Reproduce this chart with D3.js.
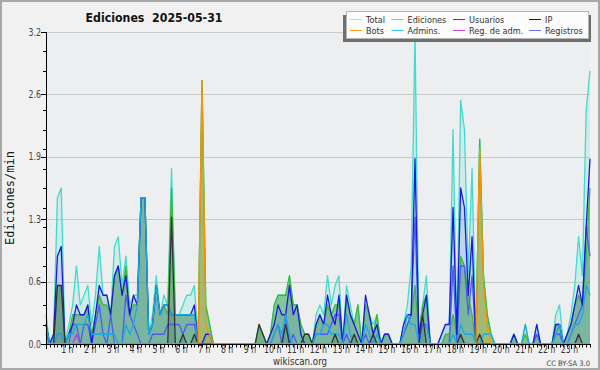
<!DOCTYPE html>
<html><head><meta charset="utf-8">
<script src="https://cdn.jsdelivr.net/npm/d3@7"></script>
<style>
html,body{margin:0;padding:0;background:#f1f1f1;}
svg{display:block;}
</style>
</head><body>
<svg id="c" width="600" height="370"></svg>
<script>
// ---- data (edits per minute, 10-minute buckets, 144 points) ----
const hourLabels = ["1 h","2 h","3 h","4 h","5 h","6 h","7 h","8 h","9 h","10 h","11 h","12 h","13 h","14 h","15 h","16 h","17 h","18 h","19 h","20 h","21 h","22 h","23 h"];
const yTickValues = [0, 0.64, 1.28, 1.92, 2.56, 3.2];

const total = [
 0.3,0.0,0.1,1.5,1.6,0.0,  0.2,0.4,0.8,0.4,0.5,0.6,  0.2,0.5,1.0,0.5,0.5,0.3,  1.0,1.1,0.6,0.9,0.4,0.5,
 0.5,1.5,1.5,0.1,0.3,0.7,  0.3,0.5,0.4,1.8,0.3,0.3,  0.4,0.5,0.5,0.6,0.0,2.7,  0.4,0.2,0.0,0.0,0.0,0.0,
 0.0,0.0,0.0,0.0,0.0,0.0,  0.0,0.0,0.2,0.1,0.0,0.1,  0.4,0.5,0.5,0.5,0.7,0.4,  0.4,0.2,0.1,0.1,0.0,0.3,
 0.4,0.3,0.7,0.4,0.6,0.7,  0.0,0.6,0.4,0.2,0.4,0.0,  0.4,0.3,0.2,0.3,0.0,0.1,  0.1,0.0,0.0,0.0,0.2,0.4,
 0.8,3.2,0.1,0.4,0.7,0.0,  0.0,0.0,0.1,0.2,0.2,2.2,  0.1,2.5,2.2,0.7,1.8,0.0,  2.1,0.7,0.3,0.1,0.0,0.0,
 0.0,0.0,0.0,0.1,0.0,0.0,  0.2,0.0,0.0,0.2,0.0,0.0,  0.0,0.0,0.3,0.4,0.0,0.1,  0.3,0.6,1.1,0.7,2.4,2.8];

const ediciones = [
 0.2,0.0,0.1,0.6,0.6,0.0,  0.1,0.3,0.3,0.3,0.3,0.4,  0.1,0.3,0.5,0.4,0.4,0.3,  0.7,0.8,0.5,0.8,0.3,0.4,
 0.4,1.5,1.5,0.1,0.2,0.6,  0.3,0.4,0.3,1.6,0.3,0.3,  0.3,0.3,0.3,0.3,0.0,2.7,  0.4,0.2,0.0,0.0,0.0,0.0,
 0.0,0.0,0.0,0.0,0.0,0.0,  0.0,0.0,0.2,0.1,0.0,0.1,  0.4,0.5,0.5,0.5,0.7,0.4,  0.4,0.2,0.1,0.1,0.0,0.2,
 0.3,0.2,0.4,0.3,0.4,0.4,  0.0,0.5,0.3,0.2,0.4,0.0,  0.4,0.3,0.1,0.3,0.0,0.1,  0.1,0.0,0.0,0.0,0.1,0.2,
 0.3,0.6,0.1,0.4,0.5,0.0,  0.0,0.0,0.0,0.1,0.1,0.3,  0.1,0.9,0.8,0.5,0.3,0.0,  2.1,0.7,0.3,0.1,0.0,0.0,
 0.0,0.0,0.0,0.1,0.0,0.0,  0.1,0.0,0.0,0.1,0.0,0.0,  0.0,0.0,0.2,0.2,0.0,0.1,  0.2,0.4,0.5,0.4,0.9,1.6];

const usuarios = [
 0.2,0.0,0.1,0.9,1.0,0.0,  0.1,0.2,0.4,0.3,0.3,0.4,  0.0,0.3,0.6,0.5,0.5,0.3,  0.7,0.8,0.5,0.7,0.3,0.5,
 0.4,1.5,1.5,0.1,0.2,0.6,  0.3,0.4,0.4,0.3,0.3,0.3,  0.3,0.3,0.3,0.4,0.0,0.0,  0.1,0.1,0.0,0.0,0.0,0.0,
 0.0,0.0,0.0,0.0,0.0,0.0,  0.0,0.0,0.0,0.0,0.0,0.1,  0.2,0.4,0.3,0.3,0.6,0.3,  0.4,0.1,0.0,0.0,0.0,0.2,
 0.3,0.2,0.5,0.3,0.2,0.5,  0.0,0.5,0.3,0.2,0.1,0.0,  0.5,0.3,0.1,0.2,0.0,0.1,  0.1,0.0,0.0,0.0,0.2,0.3,
 0.3,1.9,0.1,0.3,0.5,0.0,  0.0,0.0,0.1,0.2,0.2,1.4,  0.1,1.6,1.4,0.5,1.1,0.0,  0.0,0.0,0.0,0.0,0.0,0.0,
 0.0,0.0,0.0,0.1,0.0,0.0,  0.0,0.0,0.0,0.2,0.0,0.0,  0.0,0.0,0.2,0.2,0.0,0.1,  0.2,0.4,0.6,0.4,1.2,1.9];

const ip = [
 0.0,0.0,0.0,0.6,0.6,0.0,  0.0,0.0,0.0,0.0,0.0,0.0,  0.0,0.0,0.0,0.0,0.0,0.0,  0.0,0.0,0.0,0.0,0.0,0.0,
 0.0,0.0,0.0,0.0,0.0,0.0,  0.0,0.0,0.0,1.3,0.0,0.0,  0.1,0.0,0.0,0.1,0.0,0.0,  0.0,0.0,0.0,0.0,0.0,0.0,
 0.0,0.0,0.0,0.0,0.0,0.0,  0.0,0.0,0.2,0.1,0.0,0.0,  0.0,0.0,0.0,0.2,0.0,0.0,  0.0,0.0,0.1,0.1,0.0,0.0,
 0.0,0.0,0.0,0.0,0.1,0.0,  0.0,0.0,0.0,0.1,0.0,0.0,  0.0,0.0,0.1,0.0,0.0,0.0,  0.0,0.0,0.0,0.0,0.0,0.0,
 0.0,0.0,0.0,0.3,0.0,0.0,  0.0,0.0,0.0,0.0,0.0,0.0,  0.0,0.1,0.0,0.0,0.0,0.0,  0.1,0.0,0.0,0.0,0.0,0.0,
 0.0,0.0,0.0,0.0,0.0,0.0,  0.0,0.0,0.0,0.0,0.0,0.0,  0.0,0.0,0.0,0.0,0.0,0.0,  0.0,0.0,0.1,0.0,0.0,0.0];

const bots = [
 0,0,0,0,0,0, 0,0,0,0,0,0, 0,0,0,0,0,0, 0,0,0,0,0,0,
 0,0,0,0,0,0, 0,0,0,0,0,0, 0,0,0,0,0,2.7, 0.2,0.1,0,0,0,0,
 0,0,0,0,0,0, 0,0,0,0,0,0, 0,0,0,0,0,0, 0,0,0,0,0,0,
 0,0,0,0,0,0, 0,0,0,0,0,0, 0,0,0,0,0,0, 0,0,0,0,0,0,
 0,0,0,0,0,0, 0,0,0,0,0,0, 0,0,0,0,0,0, 2.0,0.6,0.2,0,0,0,
 0,0,0,0,0,0, 0,0,0,0,0,0, 0,0,0,0,0,0, 0,0,0,0,0,0];

const admins = [
 0.2,0.0,0.0,0.1,0.1,0.0,  0.1,0.1,0.2,0.2,0.2,0.3,  0.1,0.1,0.1,0.1,0.1,0.1,  0.1,0.0,0.0,0.2,0.1,0.2,
 0.4,1.5,1.5,0.1,0.2,0.6,  0.3,0.4,0.4,0.3,0.3,0.3,  0.3,0.3,0.3,0.3,0.0,0.0,  0.0,0.0,0.0,0.0,0.0,0.0,
 0.0,0.0,0.0,0.0,0.0,0.0,  0.0,0.0,0.0,0.0,0.0,0.0,  0.1,0.2,0.1,0.3,0.1,0.0,  0.0,0.0,0.0,0.0,0.0,0.1,
 0.1,0.2,0.2,0.1,0.1,0.1,  0.0,0.3,0.1,0.0,0.0,0.0,  0.2,0.1,0.0,0.1,0.0,0.0,  0.0,0.0,0.0,0.0,0.1,0.3,
 0.2,0.2,0.0,0.1,0.2,0.0,  0.0,0.0,0.0,0.0,0.0,0.1,  0.0,0.2,0.1,0.1,0.1,0.0,  0.0,0.1,0.1,0.1,0.0,0.0,
 0.0,0.0,0.0,0.0,0.0,0.0,  0.2,0.0,0.0,0.0,0.0,0.0,  0.0,0.0,0.1,0.2,0.0,0.0,  0.1,0.2,0.2,0.3,0.6,0.5];

const regAdm = [
 0,0,0,0,0,0, 0,0,0.1,0,0,0, 0,0,0,0,0,0, 0,0,0,0,0,0,
 0,0,0,0,0,0, 0,0,0,0,0,0, 0,0,0,0,0,0, 0,0,0,0,0,0,
 0,0,0,0,0,0, 0,0,0,0,0,0, 0,0,0,0,0,0, 0,0,0,0,0,0,
 0,0,0,0,0,0, 0,0,0,0,0,0, 0,0,0,0,0,0, 0,0,0,0,0,0,
 0,0,0,0,0,0, 0,0,0,0,0,0, 0,0,0,0,0,0, 0,0,0,0,0,0,
 0,0,0,0,0,0, 0,0,0,0,0,0, 0,0,0,0,0,0, 0,0,0,0,0,0];

const registros = [
 0.1,0.0,0.0,0.1,0.1,0.0,  0.0,0.2,0.2,0.0,0.2,0.2,  0.0,0.2,0.4,0.1,0.0,0.3,  0.0,0.0,0.0,0.5,0.3,0.2,
 0.1,0.0,0.0,0.0,0.1,0.1,  0.1,0.1,0.2,0.2,0.2,0.2,  0.1,0.2,0.2,0.2,0.0,0.0,  0.0,0.0,0.0,0.0,0.0,0.0,
 0.0,0.0,0.0,0.0,0.0,0.0,  0.0,0.0,0.0,0.0,0.0,0.0,  0.1,0.2,0.0,0.3,0.0,0.1,  0.0,0.0,0.0,0.0,0.0,0.1,
 0.1,0.1,0.1,0.2,0.3,0.3,  0.0,0.1,0.0,0.0,0.0,0.0,  0.1,0.0,0.0,0.0,0.0,0.0,  0.0,0.0,0.0,0.0,0.1,0.2,
 0.3,1.3,0.0,0.2,0.2,0.0,  0.0,0.0,0.0,0.0,0.0,0.8,  0.0,0.8,0.8,0.3,0.7,0.0,  0.0,0.0,0.0,0.0,0.0,0.0,
 0.0,0.0,0.0,0.0,0.0,0.0,  0.0,0.0,0.0,0.1,0.0,0.0,  0.0,0.0,0.1,0.1,0.0,0.0,  0.1,0.2,0.3,0.4,1.2,0.9];

const legendNames = ["Total","Ediciones","Usuarios","IP","Bots","Admins.","Reg. de adm.","Registros"];
const legendColors = ["#9fe6de","#7fd27f","#3a3ae0","#222222","#ff9a1a","#3cc8e0","#cc44dd","#6a78f5"];

// ---- drawing ----
const svg = d3.select("#c");
const W = 600, H = 370;
const L = 46, R = 590, T = 32, B = 344;
const N = total.length;

const x = d3.scaleLinear().domain([0, N - 1]).range([L, R]);
const y = d3.scaleLinear().domain([0, 3.2]).range([B, T]);

const sans = "'DejaVu Sans',sans-serif";
// squeeze a text horizontally to mimic the narrow font of the original
function narrow(sel, factor) {
  sel.each(function () {
    const w = this.getComputedTextLength();
    d3.select(this).attr("textLength", w * factor).attr("lengthAdjust", "spacingAndGlyphs");
  });
}

svg.append("rect").attr("x",0).attr("y",0).attr("width",W).attr("height",H).attr("fill","#f1f1f1");
svg.append("rect").attr("x",1).attr("y",1).attr("width",W-2).attr("height",H-2)
  .attr("fill","none").attr("stroke","#a8a8a8").attr("stroke-width",2);

// plot background
svg.append("rect").attr("x",L).attr("y",T).attr("width",R-L).attr("height",B-T).attr("fill","#eceef0");

// grid
svg.append("g").selectAll("line").data(yTickValues.slice(1)).join("line")
  .attr("x1",L).attr("x2",R).attr("y1",d=>Math.round(y(d))+0.5).attr("y2",d=>Math.round(y(d))+0.5)
  .attr("stroke","#c9c9c9").attr("stroke-width",1);

const plot = svg.append("g");
const areaOf = arr => d3.area().x((d,i)=>x(i)).y0(B).y1(d=>y(d))(arr);
const lineOf = arr => d3.line().x((d,i)=>x(i)).y(d=>y(d))(arr);

plot.append("path").attr("d",areaOf(total)).attr("fill","rgba(64,224,208,0.16)");
plot.append("path").attr("d",areaOf(ediciones)).attr("fill","rgba(70,168,84,0.55)");
plot.append("path").attr("d",areaOf(usuarios)).attr("fill","rgba(50,60,220,0.12)");
plot.append("path").attr("d",areaOf(ip)).attr("fill","rgba(30,40,40,0.15)");
plot.append("path").attr("d",areaOf(bots)).attr("fill","rgba(255,150,0,0.25)");

const lines = [
  [total,"#3fdccb"],
  [ediciones,"#3cb83c"],
  [registros,"#4a5cf2"],
  [usuarios,"#1a1ad8"],
  [admins,"#1fa8e0"],
  [ip,"#333333"],
  [regAdm,"#c03ad8"],
  [bots,"#ff9000"]
];
lines.forEach(([arr,col])=>{
  plot.append("path").attr("d",lineOf(arr)).attr("fill","none")
    .attr("stroke",col).attr("stroke-width",1.3).attr("stroke-linejoin","round");
});

// axes
svg.append("line").attr("x1",L+0.5).attr("x2",L+0.5).attr("y1",T).attr("y2",B+1).attr("stroke","#000");
svg.append("line").attr("x1",L).attr("x2",R+1).attr("y1",B+0.5).attr("y2",B+0.5).attr("stroke","#000");

// y major ticks + labels
svg.append("g").selectAll("line").data(yTickValues).join("line")
  .attr("x1",L-5).attr("x2",L).attr("y1",d=>Math.round(y(d))+0.5).attr("y2",d=>Math.round(y(d))+0.5)
  .attr("stroke","#000");
const minor = d3.range(0.2, 3.2, 0.2).filter(v => yTickValues.every(t => Math.abs(y(t)-y(v)) > 6));
svg.append("g").selectAll("line").data(minor).join("line")
  .attr("x1",L-3).attr("x2",L).attr("y1",d=>Math.round(y(d))+0.5).attr("y2",d=>Math.round(y(d))+0.5)
  .attr("stroke","#000");
svg.append("g").selectAll("text").data(yTickValues).join("text")
  .attr("x",L-5).attr("y",d=>y(d)+3.5).attr("text-anchor","end")
  .attr("font-family",sans).attr("font-size",10).attr("fill","#444")
  .text(d=>d.toFixed(1)).call(narrow, 0.78);

// x ticks
svg.append("g").selectAll("line").data(d3.range(N)).join("line")
  .attr("x1",d=>Math.round(x(d))+0.5).attr("x2",d=>Math.round(x(d))+0.5)
  .attr("y1",B).attr("y2",d=> d%6===0 ? B+5 : B+3.5).attr("stroke","#000");
svg.append("g").selectAll("text").data(hourLabels).join("text")
  .attr("x",(d,i)=>x((i+1)*6)-1.5).attr("y",353).attr("text-anchor","middle")
  .attr("font-family",sans).attr("font-size",10).attr("fill","#333")
  .text(d=>d).call(narrow, 0.78);

// titles
svg.append("text").attr("x",154).attr("y",22).attr("text-anchor","middle")
  .attr("font-family",sans).attr("font-weight","bold").attr("font-size",13).attr("fill","#111")
  .style("white-space","pre").text("Ediciones  2025-05-31")
  .attr("textLength",137).attr("lengthAdjust","spacingAndGlyphs");
svg.append("text").attr("transform","translate(14,198) rotate(-90)").attr("text-anchor","middle")
  .attr("font-family","'DejaVu Sans Mono',monospace").attr("font-size",12).attr("fill","#111")
  .text("Ediciones/min");
svg.append("text").attr("x",300).attr("y",365).attr("text-anchor","middle")
  .attr("font-family",sans).attr("font-size",10).attr("fill","#333").text("wikiscan.org")
  .call(narrow, 0.87);
svg.append("text").attr("x",590).attr("y",366).attr("text-anchor","end")
  .attr("font-family",sans).attr("font-size",7.5).attr("fill","#444").text("CC BY-SA 3.0")
  .call(narrow, 0.9);

// legend
const lg = svg.append("g");
lg.append("rect").attr("x",343).attr("y",15).attr("width",248).attr("height",27).attr("fill","#6f6f6f");
lg.append("rect").attr("x",346.5).attr("y",11.5).attr("width",242).attr("height",27)
  .attr("fill","#fcfcfc").attr("stroke","#b5b5b5");
const colX = [350, 391.5, 453, 529];
legendNames.forEach((name,k)=>{
  const col = k % 4, row = Math.floor(k / 4);
  const cx = colX[col], base = 22.5 + row*11;
  lg.append("line").attr("x1",cx).attr("x2",cx+12).attr("y1",base-3).attr("y2",base-3)
    .attr("stroke",legendColors[k]).attr("stroke-width",1);
  lg.append("text").attr("x",cx+16).attr("y",base).attr("font-family",sans)
    .attr("font-size",9.5).attr("fill","#333").text(name).call(narrow, 0.86);
});
</script>
</body></html>
